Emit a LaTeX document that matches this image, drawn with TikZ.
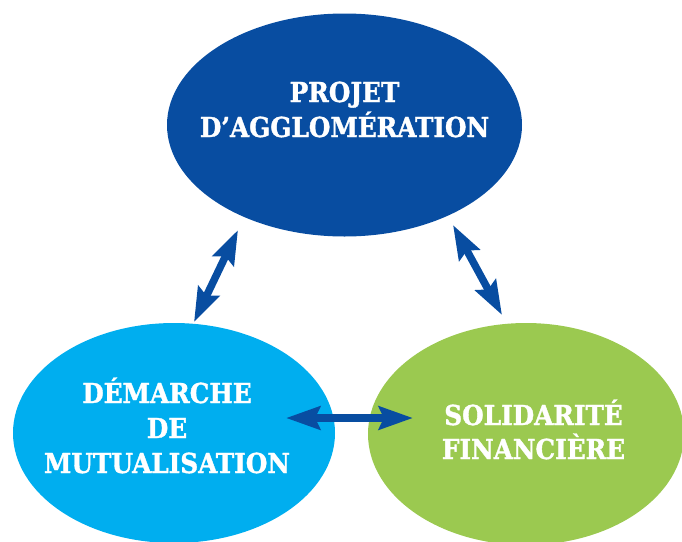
\documentclass[tikz,border=0pt]{standalone}
\usepackage{fontspec}
\newfontfamily\lblfont{DejaVu Serif Condensed}[BoldFont={DejaVu Serif Condensed Bold},BoldFeatures={FakeBold=1.3}]
\usetikzlibrary{shapes.geometric,arrows.meta}
\definecolor{dblue}{RGB}{8,77,161}
\definecolor{lblue}{RGB}{0,174,239}
\definecolor{lgreen}{RGB}{155,201,80}
\tikzset{
  blob/.style={ellipse, draw=none, inner sep=0pt},
  lbl/.style={anchor=base, text=white, inner sep=0pt, font=\lblfont\bfseries\fontsize{27.5}{32}\selectfont},
  link/.style={draw=dblue, line width=7.5pt, {Stealth[length=34pt,width=23pt,inset=5pt]}-{Stealth[length=34pt,width=23pt,inset=5pt]}}
}
\begin{document}
\begin{tikzpicture}[x=1pt,y=-1pt]
\useasboundingbox (0,0) rectangle (682,541);
\clip (0,0) rectangle (682,541);
\node[blob, fill=dblue, minimum width=355pt, minimum height=223pt] (top) at (344.5,125) {};
\node[blob, fill=lblue, minimum width=322pt, minimum height=220pt] (left) at (174,433) {};
\node[blob, fill=lgreen, minimum width=316pt, minimum height=222pt] (right) at (526,434) {};
\node[lbl] (t1) at (344.5,102) {PROJET};
\node[lbl] (t2) at (344.5,137) {D’AGGLOMÉRATION};
\node[lbl] (l1) at (167,403) {DÉMARCHE};
\node[lbl] (l2) at (167,438) {DE};
\node[lbl] (l3) at (167,473) {MUTUALISATION};
\node[lbl] (r1) at (533.5,425) {SOLIDARITÉ};
\node[lbl] (r2) at (533.5,459) {FINANCIÈRE};
\coordinate (a1) at (238,230);
\coordinate (a2) at (194,322);
\coordinate (b1) at (453,225);
\coordinate (b2) at (502,315);
\coordinate (c1) at (286,418);
\coordinate (c2) at (413,418);
\draw[link] (a1) -- (a2);
\draw[link] (b1) -- (b2);
\draw[link] (c1) -- (c2);
\end{tikzpicture}
\end{document}
